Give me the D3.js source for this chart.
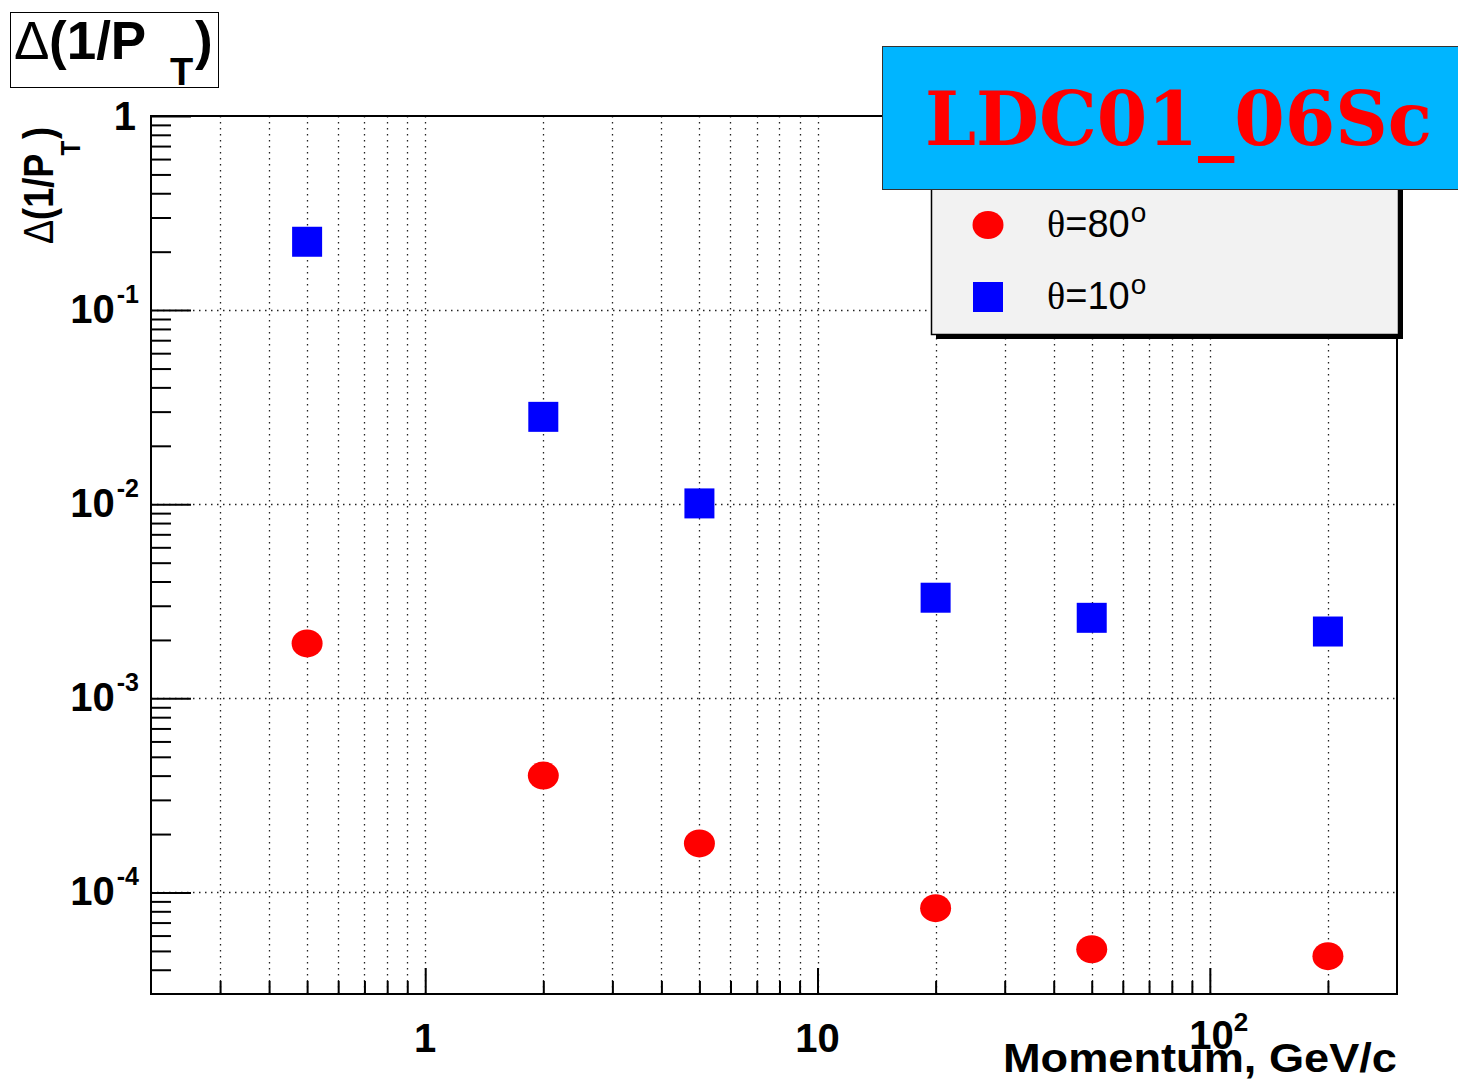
<!DOCTYPE html>
<html>
<head>
<meta charset="utf-8">
<script src="https://cdn.jsdelivr.net/npm/d3@7"></script>
<style>
  body { margin: 0; background: #fff; }
  svg { font-family: "Liberation Sans", Arial, sans-serif; }
</style>
</head>
<body>
<div id="chart"></div>
<script>
// momentum points (GeV/c)
const momentum = [0.5, 2, 5, 20, 50, 200];
// resolution at theta = 80 deg (red circles)
const res80 = [1.92e-3, 4.0e-4, 1.79e-4, 8.3e-5, 5.1e-5, 4.7e-5];
// resolution at theta = 10 deg (blue squares)
const res10 = [0.225, 0.0282, 0.0101, 0.0033, 0.0026, 0.00221];

const seriesNames = ["=80", "=10"];
const yTickExp = [0, -1, -2, -3, -4];
const xTickLabels = [["1", ""], ["10", ""], ["10", "2"]];
const xMajor = [1, 10, 100];

const W = 1458, H = 1080;
const margin = {top: 116, right: 61, bottom: 86, left: 151};

const svg = d3.select("#chart").append("svg")
  .attr("width", W).attr("height", H);

const x = d3.scaleLog().domain([0.2, 300]).range([margin.left, W - margin.right]);
const y = d3.scaleLog().domain([3e-5, 1]).range([H - margin.bottom, margin.top]);

const x0 = margin.left, x1 = W - margin.right;
const y0 = H - margin.bottom, y1 = margin.top;

// tick values
const xAll = x.ticks().filter(d => d > 0.2 && d < 300);
const xMinor = xAll.filter(d => !xMajor.includes(d));
const yMajor = yTickExp.map(e => Math.pow(10, e));
const yMinor = y.ticks().filter(d => !yMajor.some(m => Math.abs(m - d) / m < 1e-6) && d > 3e-5);

// grid
const grid = svg.append("g")
  .attr("stroke", "#222")
  .attr("stroke-width", 1.3)
  .attr("stroke-dasharray", "1.5,4.5");

grid.selectAll("line.vx")
  .data(xAll)
  .enter()
  .append("line")
    .attr("x1", d => Math.round(x(d)) + 0.5)
    .attr("x2", d => Math.round(x(d)) + 0.5)
    .attr("y1", y1)
    .attr("y2", y0);

grid.selectAll("line.hy")
  .data(yMajor.filter(d => d < 1))
  .enter()
  .append("line")
    .attr("x1", x0)
    .attr("x2", x1)
    .attr("y1", d => Math.round(y(d)) + 0.5)
    .attr("y2", d => Math.round(y(d)) + 0.5);

// axes ticks (inward)
function styleAxis(g) {
  g.select(".domain").remove();
  g.selectAll(".tick line").attr("stroke", "#000").attr("stroke-width", 2);
}

svg.append("g")
  .attr("transform", "translate(0," + y0 + ")")
  .call(d3.axisBottom(x).tickValues(xMinor).tickSize(-13).tickFormat(""))
  .call(styleAxis);

svg.append("g")
  .attr("transform", "translate(0," + y0 + ")")
  .call(d3.axisBottom(x).tickValues(xMajor).tickSize(-26).tickFormat(""))
  .call(styleAxis);

svg.append("g")
  .attr("transform", "translate(" + x0 + ",0)")
  .call(d3.axisLeft(y).tickValues(yMinor).tickSize(-20).tickFormat(""))
  .call(styleAxis);

svg.append("g")
  .attr("transform", "translate(" + x0 + ",0)")
  .call(d3.axisLeft(y).tickValues(yMajor).tickSize(-40).tickFormat(""))
  .call(styleAxis);

// frame
svg.append("rect")
  .attr("x", x0).attr("y", y1)
  .attr("width", x1 - x0).attr("height", y0 - y1)
  .attr("fill", "none").attr("stroke", "#000").attr("stroke-width", 2);

// y tick labels
const yLab = svg.append("g")
  .attr("font-weight", "bold")
  .attr("font-size", 40)
  .attr("text-anchor", "end");

yLab.selectAll("text")
  .data(yTickExp)
  .enter()
  .append("text")
    .attr("x", 139)
    .attr("y", d => y(Math.pow(10, d)) + 13)
    .each(function(d) {
      const t = d3.select(this);
      if (d === 0) {
        t.attr("x", 136).attr("y", y(1) + 14).text("1");
      } else {
        t.append("tspan").text("10");
        t.append("tspan").attr("font-size", 25).attr("dx", 2).attr("dy", -20).text(String(d));
      }
    });

// x tick labels
const xLab = svg.append("g")
  .attr("font-weight", "bold")
  .attr("font-size", 40);

xLab.selectAll("text")
  .data(xMajor)
  .enter()
  .append("text")
    .attr("x", d => x(d))
    .attr("y", (d, i) => i === 2 ? 1049 : 1052)
    .attr("text-anchor", "middle")
    .each(function(d, i) {
      const t = d3.select(this);
      t.append("tspan").text(xTickLabels[i][0]);
      if (xTickLabels[i][1]) {
        t.attr("dx", 9);
        t.append("tspan").attr("font-size", 26).attr("dy", -18).text(xTickLabels[i][1]);
      }
    });

// x axis title
svg.append("text")
  .attr("x", 1397).attr("y", 1072)
  .attr("text-anchor", "end")
  .attr("font-weight", "bold")
  .attr("font-size", 40)
  .attr("textLength", 394)
  .attr("lengthAdjust", "spacingAndGlyphs")
  .text("Momentum, GeV/c");

// y axis title (rotated, slightly condensed)
const yt = svg.append("text")
  .attr("transform", "translate(53,244) rotate(-90) scale(0.86,1)")
  .attr("font-weight", "bold")
  .attr("font-size", 42);
yt.append("tspan").attr("font-weight", "normal").text("\u0394");
yt.append("tspan").text("(1/P");
yt.append("tspan").attr("font-size", 28).attr("dy", 27).attr("dx", -2).text("T");
yt.append("tspan").attr("dy", -27).attr("dx", 2).text(")");

// points
svg.append("g").selectAll("ellipse")
  .data(momentum.map((m, i) => ({m: m, v: res80[i]})))
  .enter()
  .append("ellipse")
    .attr("cx", d => x(d.m))
    .attr("cy", d => y(d.v))
    .attr("rx", 15.5)
    .attr("ry", 14)
    .attr("fill", "#ff0000");

svg.append("g").selectAll("rect")
  .data(momentum.map((m, i) => ({m: m, v: res10[i]})))
  .enter()
  .append("rect")
    .attr("x", d => x(d.m) - 15)
    .attr("y", d => y(d.v) - 15)
    .attr("width", 30)
    .attr("height", 30)
    .attr("fill", "#0000ff");

// legend
const leg = svg.append("g");
leg.append("rect")
  .attr("x", 936).attr("y", 155)
  .attr("width", 467).attr("height", 184)
  .attr("fill", "#000");
leg.append("rect")
  .attr("x", 931.5).attr("y", 150.5)
  .attr("width", 467).attr("height", 184)
  .attr("fill", "#f2f2f2")
  .attr("stroke", "#000").attr("stroke-width", 1.5);

leg.append("ellipse")
  .attr("cx", 988).attr("cy", 225)
  .attr("rx", 15.5).attr("ry", 14)
  .attr("fill", "#ff0000");
leg.append("rect")
  .attr("x", 973).attr("y", 282)
  .attr("width", 30).attr("height", 30)
  .attr("fill", "#0000ff");

leg.selectAll("text.lt")
  .data(seriesNames)
  .enter()
  .append("text")
    .attr("x", 1047)
    .attr("y", (d, i) => 237 + i * 72)
    .attr("font-size", 38)
    .each(function(d) {
      const t = d3.select(this);
      t.append("tspan").style("font-family", "'Liberation Serif', serif").text("\u03b8");
      t.append("tspan").text(d);
      t.append("tspan").attr("font-size", 28).attr("dx", 1).attr("dy", -15).text("o");
    });

// model banner
svg.append("rect")
  .attr("x", 882.5).attr("y", 46.5)
  .attr("width", 600).attr("height", 143)
  .attr("fill", "#00b5ff")
  .attr("stroke", "#333").attr("stroke-width", 1);
svg.append("text")
  .attr("x", 925).attr("y", 145)
  .style("font-family", "'DejaVu Serif', serif")
  .attr("font-weight", "bold")
  .attr("font-size", 75)
  .attr("fill", "#ff0000")
  .attr("textLength", 507)
  .attr("lengthAdjust", "spacingAndGlyphs")
  .text("LDC01_06Sc");

// title box
svg.append("rect")
  .attr("x", 10.5).attr("y", 12.5)
  .attr("width", 208).attr("height", 75)
  .attr("fill", "#fff").attr("stroke", "#000").attr("stroke-width", 1);
const tt = svg.append("text")
  .attr("y", 59)
  .attr("font-weight", "bold")
  .attr("font-size", 53);
tt.append("tspan").attr("x", 14).attr("font-weight", "normal").text("\u0394");
tt.append("tspan").attr("x", 49).text("(1/P");
tt.append("tspan").attr("x", 170).attr("font-size", 38).attr("dy", 26).text("T");
tt.append("tspan").attr("x", 195).attr("dy", -26).text(")");
</script>
</body>
</html>
